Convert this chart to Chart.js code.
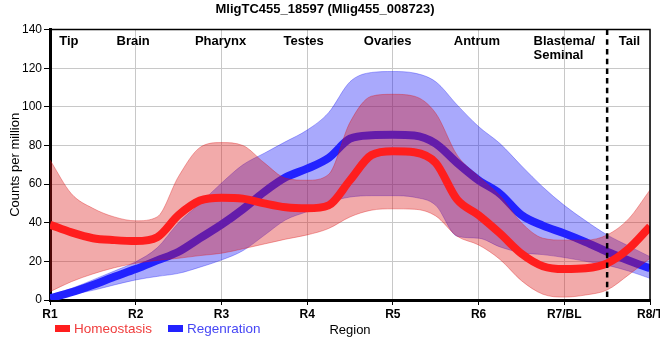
<!DOCTYPE html>
<html>
<head>
<meta charset="utf-8">
<script src="https://cdn.jsdelivr.net/npm/chart.js@4.4.0/dist/chart.umd.min.js"></script>
<style>
  body { margin: 0; background: #fff; font-family: "Liberation Sans", Arial, sans-serif; }
  #wrap { position: relative; width: 660px; height: 360px; overflow: hidden; }
  #legend { position: absolute; left: 55px; top: 321px; font-size: 13.5px; white-space: nowrap; }
  #legend span.item { display: inline-block; margin-right: 16px; }
  #legend span.box { display: inline-block; width: 15px; height: 7px; margin-right: 4px; vertical-align: 1px; }
</style>
</head>
<body>
<div id="wrap">
  <canvas id="geneChart"></canvas>
  <div id="legend"></div>
</div>
<script>
const chartTitle = "MligTC455_18597 (Mlig455_008723)";
const regionTicks = ["R1", "R2", "R3", "R4", "R5", "R6", "R7/BL", "R8/T"];
const regionNames = ["Tip", "Brain", "Pharynx", "Testes", "Ovaries", "Antrum", "Blastema/\nSeminal", "Tail"];
const regionAt = [1.22, 1.97, 2.99, 3.96, 4.94, 5.98, 7.0, 7.76];
const tailCut = 7.5;

// positions along the body, quarter steps between regions
const xs = [1, 1.25, 1.5, 1.75, 2, 2.25, 2.5, 2.75, 3, 3.25, 3.5, 3.75, 4, 4.25, 4.5, 4.75,
            5, 5.25, 5.5, 5.75, 6, 6.25, 6.5, 6.75, 7, 7.25, 7.5, 7.75, 8];

const homeoMean  = [39, 35, 32, 31, 30.5, 32.5, 44, 51.5, 53, 52.5, 50, 48, 47.5, 49, 62, 75,
                    77, 76.5, 71, 52, 44, 34.5, 24, 17.5, 16, 16.4, 19, 26.5, 38];
const homeoUpper = [72.5, 55, 47.5, 43, 41, 43, 64, 79, 81.5, 80, 71, 63, 62, 65, 92, 105.5,
                    106.5, 105.5, 96.7, 75, 64, 54, 40, 32, 31, 31, 33.7, 42, 57];
const homeoLower = [4.3, 9.5, 13.5, 16.7, 19, 20.5, 21.6, 23, 24.2, 26.5, 29, 31.5, 33.7, 37, 43, 46.5,
                    47.2, 47, 43.5, 33, 28.5, 21, 10, 3, 1.5, 2.6, 5.2, 13, 21.6];

const regenMean  = [0.9, 4, 7.8, 12, 16, 20.5, 25, 32, 39, 47, 56, 63.5, 68, 73.5, 83.5, 85.3,
                    85.5, 85.2, 81, 71, 62, 55, 44, 38.5, 34.5, 30, 25, 20.5, 16.4];
const regenUpper = [2.6, 6, 10.4, 15, 19.8, 27, 40, 50, 60.5, 70, 76, 82, 88, 97, 113, 117.8,
                    118.3, 117.5, 113, 101, 89.8, 81, 69.5, 58.5, 49, 41, 33.7, 28, 22.4];
const regenLower = [0.5, 2.8, 5, 7.8, 10.4, 12.2, 13.8, 17, 20.7, 25.5, 33.5, 41.5, 45.8, 50.5, 53.3, 54,
                    54, 53.2, 49, 33, 32, 27.5, 24.5, 23.5, 22, 20, 18, 15, 11.2];

const seriesNames = ["Homeostasis", "Regenration"];
const lineColors = ["#ff1e1e", "#2222ff"];
const textColors = ["#f03c3c", "#4646f5"];
const bandColors = ["rgba(220,20,20,0.36)", "rgba(10,10,245,0.35)"];
const bandEdges = ["rgba(220,20,20,0.35)", "rgba(10,10,245,0.3)"];

const font = "'Liberation Sans', Arial, sans-serif";
Chart.defaults.font.family = font;

function pts(values) {
    return xs.map((x, i) => ({ x: x, y: values[i] }));
}

function band(values, i, fill, order) {
    return {
        data: pts(values),
        borderColor: bandEdges[i],
        borderWidth: 1,
        backgroundColor: bandColors[i],
        fill: fill,
        pointRadius: 0,
        cubicInterpolationMode: "monotone",
        order: order
    };
}

function line(values, i, order) {
    return {
        label: seriesNames[i],
        data: pts(values),
        borderColor: lineColors[i],
        borderWidth: 8,
        fill: false,
        pointRadius: 0,
        cubicInterpolationMode: "monotone",
        order: order
    };
}

const extras = {
    id: "extras",
    afterDatasetsDraw(chart) {
        const c = chart.ctx;
        const area = chart.chartArea;
        const xScale = chart.scales.x;
        c.save();
        // dashed divider before the tail
        const xd = xScale.getPixelForValue(tailCut);
        c.strokeStyle = "#000";
        c.lineWidth = 2.5;
        c.setLineDash([5.5, 4.2]);
        c.beginPath();
        c.moveTo(xd, area.top);
        c.lineTo(xd, area.bottom);
        c.stroke();
        c.setLineDash([]);
        // top and right frame
        c.lineWidth = 1.5;
        c.beginPath();
        c.moveTo(area.left, area.top);
        c.lineTo(area.right, area.top);
        c.lineTo(area.right, area.bottom);
        c.stroke();
        // region names
        c.fillStyle = "#000";
        c.font = "bold 13px " + font;
        c.textBaseline = "alphabetic";
        regionNames.forEach((name, i) => {
            const lines = name.split("\n");
            const cx = xScale.getPixelForValue(regionAt[i]);
            const w = Math.max(...lines.map(t => c.measureText(t).width));
            c.textAlign = "left";
            lines.forEach((t, k) => {
                c.fillText(t, cx - w / 2, area.top + 15 + k * 14.5);
            });
        });
        c.restore();
    }
};

const ctx = document.getElementById("geneChart");

const geneChart = new Chart(ctx, {
    type: "line",
    data: {
        datasets: [
            band(regenLower, 1, false, 3),
            band(regenUpper, 1, "-1", 3),
            line(regenMean, 1, 2),
            band(homeoLower, 0, false, 1),
            band(homeoUpper, 0, "-1", 1),
            line(homeoMean, 0, 0)
        ]
    },
    options: {
        responsive: true,
        maintainAspectRatio: false,
        animation: false,
        layout: { padding: { left: 0, right: 10, top: 0, bottom: 20 } },
        plugins: {
            legend: { display: false },
            tooltip: { enabled: false },
            title: {
                display: true,
                text: chartTitle,
                color: "#000",
                font: { size: 13, weight: "bold" },
                padding: { top: 2, bottom: 12 }
            }
        },
        scales: {
            x: {
                type: "linear",
                min: 1,
                max: 8,
                border: { color: "#000", width: 3 },
                grid: { color: "#c8c8c8", tickColor: "#000", tickLength: 5 },
                ticks: {
                    stepSize: 1,
                    autoSkip: false,
                    maxRotation: 0,
                    color: "#000",
                    padding: 2,
                    font: { size: 12, weight: "bold" },
                    callback: v => regionTicks[v - 1]
                },
                title: {
                    display: true,
                    text: "Region",
                    color: "#000",
                    font: { size: 13 },
                    padding: { top: 0, bottom: 2 }
                },
                afterFit(s) {
                    s.paddingLeft = 0;
                    s.paddingRight = 0;
                    s.height = 40;
                }
            },
            y: {
                min: 0,
                max: 140,
                border: { color: "#000", width: 3 },
                grid: { color: "#c8c8c8", tickColor: "#000", tickLength: 6 },
                ticks: { stepSize: 20, color: "#000", padding: 2, font: { size: 12 } },
                title: {
                    display: true,
                    text: "Counts per million",
                    color: "#000",
                    font: { size: 13 },
                    padding: { top: 8, bottom: 0 }
                },
                afterFit(s) {
                    s.width = 50;
                    s.paddingTop = 0;
                    s.paddingBottom = 0;
                }
            }
        }
    },
    plugins: [extras]
});

const legend = document.getElementById("legend");
seriesNames.forEach((name, i) => {
    legend.innerHTML += `<span class="item"><span class="box" style="background:${lineColors[i]}"></span><span style="color:${textColors[i]}">${name}</span></span>`;
});
</script>
</body>
</html>
